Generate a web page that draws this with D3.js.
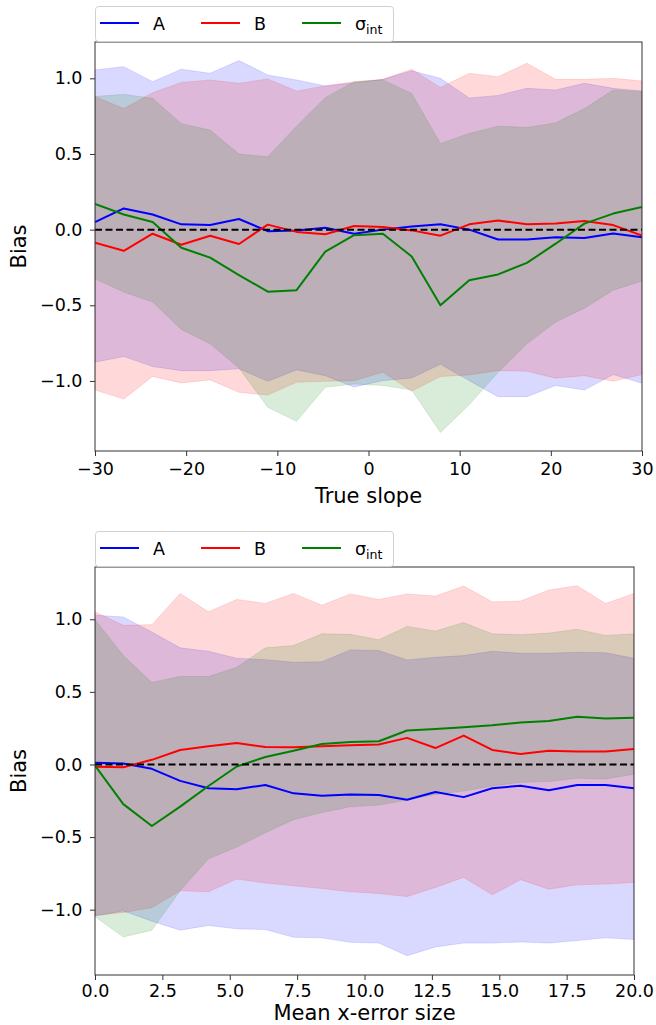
<!DOCTYPE html>
<html><head><meta charset="utf-8">
<script src="https://cdn.jsdelivr.net/npm/d3@7"></script>
<style>
body{margin:0;background:#fff}
svg{display:block}
text{font-family:"DejaVu Sans",sans-serif;fill:#000}
</style>
</head><body>
<svg id="chart" width="656" height="1025"></svg>
<script>
// ---------- Data ----------
const seriesNames = ["A", "B", "σ_int"];
const seriesColors = ["#0000ff", "#ff0000", "#008000"];

// Panel 1: true slope
const slopeX = [-30, -26.84, -23.68, -20.53, -17.37, -14.21, -11.05, -7.89, -4.74, -1.58,
                1.58, 4.74, 7.89, 11.05, 14.21, 17.37, 20.53, 23.68, 26.84, 30];
const slopeA_mean = [0.05, 0.14, 0.10, 0.035, 0.03, 0.07, -0.01, -0.005, 0.013, -0.027,
                     0.0, 0.02, 0.035, 0.0, -0.065, -0.065, -0.05, -0.055, -0.025, -0.05];
const slopeA_hi = [1.055, 1.077, 0.978, 1.06, 1.033, 1.117, 1.022, 0.989, 0.95, 0.97,
                   0.993, 1.05, 1.0, 0.87, 0.887, 0.934, 0.923, 0.967, 0.934, 0.916];
const slopeA_lo = [-0.876, -0.839, -0.905, -0.932, -0.932, -0.92, -1.002, -0.927, -0.965, -1.04,
                   -0.998, -0.98, -0.89, -0.998, -1.104, -1.104, -1.03, -1.06, -0.958, -1.015];
const slopeB_mean = [-0.086, -0.14, -0.027, -0.10, -0.04, -0.095, 0.033, -0.015, -0.03, 0.024,
                     0.018, -0.005, -0.04, 0.035, 0.06, 0.035, 0.04, 0.057, 0.03, -0.04];
const slopeB_hi = [0.88, 0.80, 0.905, 0.973, 0.989, 0.967, 0.996, 0.916, 0.95, 0.978,
                   0.993, 1.06, 0.94, 1.033, 1.011, 1.10, 0.993, 0.993, 1.0, 0.982];
const slopeB_lo = [-1.06, -1.12, -0.97, -1.013, -0.993, -1.075, -1.093, -1.009, -1.002, -0.998,
                   -0.943, -1.068, -0.971, -0.96, -0.932, -0.936, -0.982, -0.965, -1.002, -0.958];
const slopeS_mean = [0.17, 0.10, 0.05, -0.12, -0.185, -0.30, -0.41, -0.40, -0.145, -0.037,
                     -0.027, -0.177, -0.50, -0.335, -0.296, -0.22, -0.093, 0.04, 0.106, 0.15];
const slopeS_hi = [0.88, 0.894, 0.868, 0.70, 0.658, 0.50, 0.481, 0.684, 0.872, 0.978,
                   0.989, 0.90, 0.57, 0.636, 0.684, 0.675, 0.706, 0.80, 0.923, 0.912];
const slopeS_lo = [-0.325, -0.413, -0.479, -0.66, -0.755, -0.914, -1.174, -1.267, -1.042, -1.02,
                   -1.03, -1.06, -1.34, -1.157, -0.943, -0.755, -0.611, -0.519, -0.40, -0.34];

// Panel 2: mean x-error size
const errX = [0, 1.05, 2.11, 3.16, 4.21, 5.26, 6.32, 7.37, 8.42, 9.47,
              10.53, 11.58, 12.63, 13.68, 14.74, 15.79, 16.84, 17.89, 18.95, 20];
const errA_mean = [0.012, 0.007, -0.03, -0.113, -0.164, -0.171, -0.141, -0.199, -0.215, -0.206,
                   -0.21, -0.243, -0.19, -0.225, -0.164, -0.146, -0.178, -0.141, -0.141, -0.164];
const errA_hi = [1.028, 1.016, 0.912, 0.803, 0.78, 0.731, 0.722, 0.704, 0.708, 0.789,
                 0.785, 0.72, 0.738, 0.75, 0.78, 0.766, 0.766, 0.773, 0.769, 0.731];
const errA_lo = [-1.044, -1.009, -1.079, -1.141, -1.109, -1.132, -1.137, -1.19, -1.194, -1.225,
                 -1.23, -1.317, -1.257, -1.23, -1.23, -1.222, -1.23, -1.213, -1.194, -1.206];
const errB_mean = [-0.016, -0.019, 0.032, 0.10, 0.125, 0.148, 0.12, 0.118, 0.125, 0.132,
                   0.137, 0.183, 0.113, 0.199, 0.10, 0.072, 0.095, 0.09, 0.09, 0.106];
const errB_hi = [1.051, 0.958, 0.963, 1.178, 1.051, 1.137, 1.109, 1.178, 1.097, 1.174,
                 1.137, 1.174, 1.16, 1.229, 1.12, 1.125, 1.201, 1.231, 1.109, 1.178];
const errB_lo = [-1.04, -1.02, -0.986, -0.87, -0.877, -0.789, -0.817, -0.836, -0.854, -0.877,
                 -0.889, -0.91, -0.847, -0.778, -0.898, -0.794, -0.859, -0.829, -0.824, -0.813];
const errS_mean = [-0.007, -0.273, -0.424, -0.29, -0.148, -0.014, 0.051, 0.095, 0.141, 0.155,
                   0.16, 0.234, 0.245, 0.257, 0.27, 0.289, 0.299, 0.329, 0.317, 0.322];
const errS_hi = [0.998, 0.75, 0.565, 0.606, 0.606, 0.669, 0.803, 0.819, 0.90, 0.896,
                 0.859, 0.951, 0.919, 0.977, 0.90, 0.894, 0.905, 0.931, 0.889, 0.90];
const errS_lo = [-1.049, -1.188, -1.141, -0.87, -0.65, -0.569, -0.47, -0.38, -0.331, -0.292,
                 -0.28, -0.245, -0.206, -0.183, -0.148, -0.123, -0.118, -0.095, -0.10, -0.067];

// Ticks and labels
const slopeXTicks = [-30, -20, -10, 0, 10, 20, 30];
const errXTicks = [0, 2.5, 5, 7.5, 10, 12.5, 15, 17.5, 20];
const biasTicks = [-1.0, -0.5, 0.0, 0.5, 1.0];
const xLabels = ["True slope", "Mean x-error size"];
const yLabel = "Bias";

// ---------- Drawing ----------
const svg = d3.select("#chart");
const TICK_FS = 17.5, LABEL_FS = 21, LEG_FS = 17.5;

function drawPanel(cfg) {
  const g = svg.append("g");
  const x = d3.scaleLinear().domain(cfg.xDomain).range([cfg.left, cfg.right]);
  const y = d3.scaleLinear().domain(cfg.yDomain).range([cfg.bottom, cfg.top]);
  const clipId = "clip" + cfg.id;
  svg.append("clipPath").attr("id", clipId).append("rect")
    .attr("x", cfg.left).attr("y", cfg.top)
    .attr("width", cfg.right - cfg.left).attr("height", cfg.bottom - cfg.top);
  const plot = g.append("g").attr("clip-path", `url(#${clipId})`);

  const series = cfg.series.map((s, i) => ({
    color: seriesColors[i],
    pts: cfg.xs.map((xv, j) => ({x: xv, m: s.mean[j], lo: s.lo[j], hi: s.hi[j]}))
  }));

  const area = d3.area().x(d => x(d.x)).y0(d => y(d.lo)).y1(d => y(d.hi));
  series.forEach(s => {
    plot.append("path").datum(s.pts).attr("d", area)
      .attr("fill", s.color).attr("fill-opacity", 0.15)
      .attr("stroke", s.color).attr("stroke-opacity", 0.12).attr("stroke-width", 1);
  });
  const line = d3.line().x(d => x(d.x)).y(d => y(d.m));
  series.forEach(s => {
    plot.append("path").datum(s.pts).attr("d", line)
      .attr("fill", "none").attr("stroke", s.color).attr("stroke-width", 2)
      .attr("stroke-linejoin", "round");
  });
  // zero reference
  plot.append("line")
    .attr("x1", x(cfg.xDomain[0])).attr("x2", x(cfg.xDomain[1]))
    .attr("y1", y(0)).attr("y2", y(0))
    .attr("stroke", "#000").attr("stroke-width", 2).attr("stroke-dasharray", "7,3.5");

  // axes
  const xAxis = d3.axisBottom(x).tickValues(cfg.xTicks).tickFormat(cfg.xFmt)
    .tickSize(5).tickPadding(cfg.xPad).tickSizeOuter(0);
  const gx = g.append("g").attr("transform", `translate(0,${cfg.bottom})`).call(xAxis);
  const yAxis = d3.axisLeft(y).tickValues(biasTicks).tickFormat(d3.format(".1f"))
    .tickSize(5).tickPadding(7.5).tickSizeOuter(0);
  const gy = g.append("g").attr("transform", `translate(${cfg.left},0)`).call(yAxis);
  [gx, gy].forEach(a => {
    a.select(".domain").remove();
    a.selectAll(".tick line").attr("stroke", "#333").attr("stroke-width", 1);
    a.selectAll(".tick text").attr("font-size", TICK_FS)
      .attr("font-family", "DejaVu Sans, sans-serif").attr("fill", "#000");
  });

  // frame
  g.append("rect").attr("x", cfg.left).attr("y", cfg.top)
    .attr("width", cfg.right - cfg.left).attr("height", cfg.bottom - cfg.top)
    .attr("fill", "none").attr("stroke", "#333").attr("stroke-width", 1);

  // axis labels
  g.append("text").attr("x", (cfg.left + cfg.right) / 2).attr("y", cfg.xLabelY)
    .attr("text-anchor", "middle").attr("font-size", LABEL_FS).text(cfg.xLabel);
  g.append("text")
    .attr("transform", `translate(${cfg.yLabelX},${(cfg.top + cfg.bottom) / 2}) rotate(-90)`)
    .attr("text-anchor", "middle").attr("font-size", LABEL_FS).text(yLabel);

  // legend above the axes
  const lg = g.append("g");
  const lgTop = cfg.top - 36, lgLeft = cfg.left;
  lg.append("rect").attr("x", lgLeft + 0.5).attr("y", lgTop + 0.5)
    .attr("width", 298).attr("height", 35).attr("rx", 3)
    .attr("fill", "#fff").attr("fill-opacity", 0.8)
    .attr("stroke", "#d0d0d0").attr("stroke-width", 1);
  const entryX = [0, 101, 202];
  seriesNames.forEach((name, i) => {
    const ex = lgLeft + 5 + entryX[i];
    const ey = lgTop + 17;
    lg.append("line").attr("x1", ex).attr("x2", ex + 39).attr("y1", ey).attr("y2", ey)
      .attr("stroke", seriesColors[i]).attr("stroke-width", 2);
    const t = lg.append("text").attr("x", ex + 53).attr("y", ey + 6.5).attr("font-size", LEG_FS);
    if (name.includes("_")) {
      const [base, sub] = name.split("_");
      t.append("tspan").text(base);
      t.append("tspan").attr("font-size", LEG_FS * 0.72).attr("dy", 4).text(sub);
    } else {
      t.text(name);
    }
  });
}

drawPanel({
  id: 1, left: 95, right: 642, top: 42, bottom: 451,
  xDomain: [-30, 30], yDomain: [-1.463, 1.24],
  xs: slopeX, xTicks: slopeXTicks, xFmt: d3.format("d"), xPad: 7,
  series: [
    {mean: slopeA_mean, lo: slopeA_lo, hi: slopeA_hi},
    {mean: slopeB_mean, lo: slopeB_lo, hi: slopeB_hi},
    {mean: slopeS_mean, lo: slopeS_lo, hi: slopeS_hi}
  ],
  xLabel: xLabels[0], xLabelY: 503, yLabelX: 26
});

drawPanel({
  id: 2, left: 95, right: 634, top: 567, bottom: 975,
  xDomain: [0, 20], yDomain: [-1.45, 1.36],
  xs: errX, xTicks: errXTicks, xFmt: d3.format(".1f"), xPad: 5,
  series: [
    {mean: errA_mean, lo: errA_lo, hi: errA_hi},
    {mean: errB_mean, lo: errB_lo, hi: errB_hi},
    {mean: errS_mean, lo: errS_lo, hi: errS_hi}
  ],
  xLabel: xLabels[1], xLabelY: 1020, yLabelX: 26
});
</script>
</body></html>
